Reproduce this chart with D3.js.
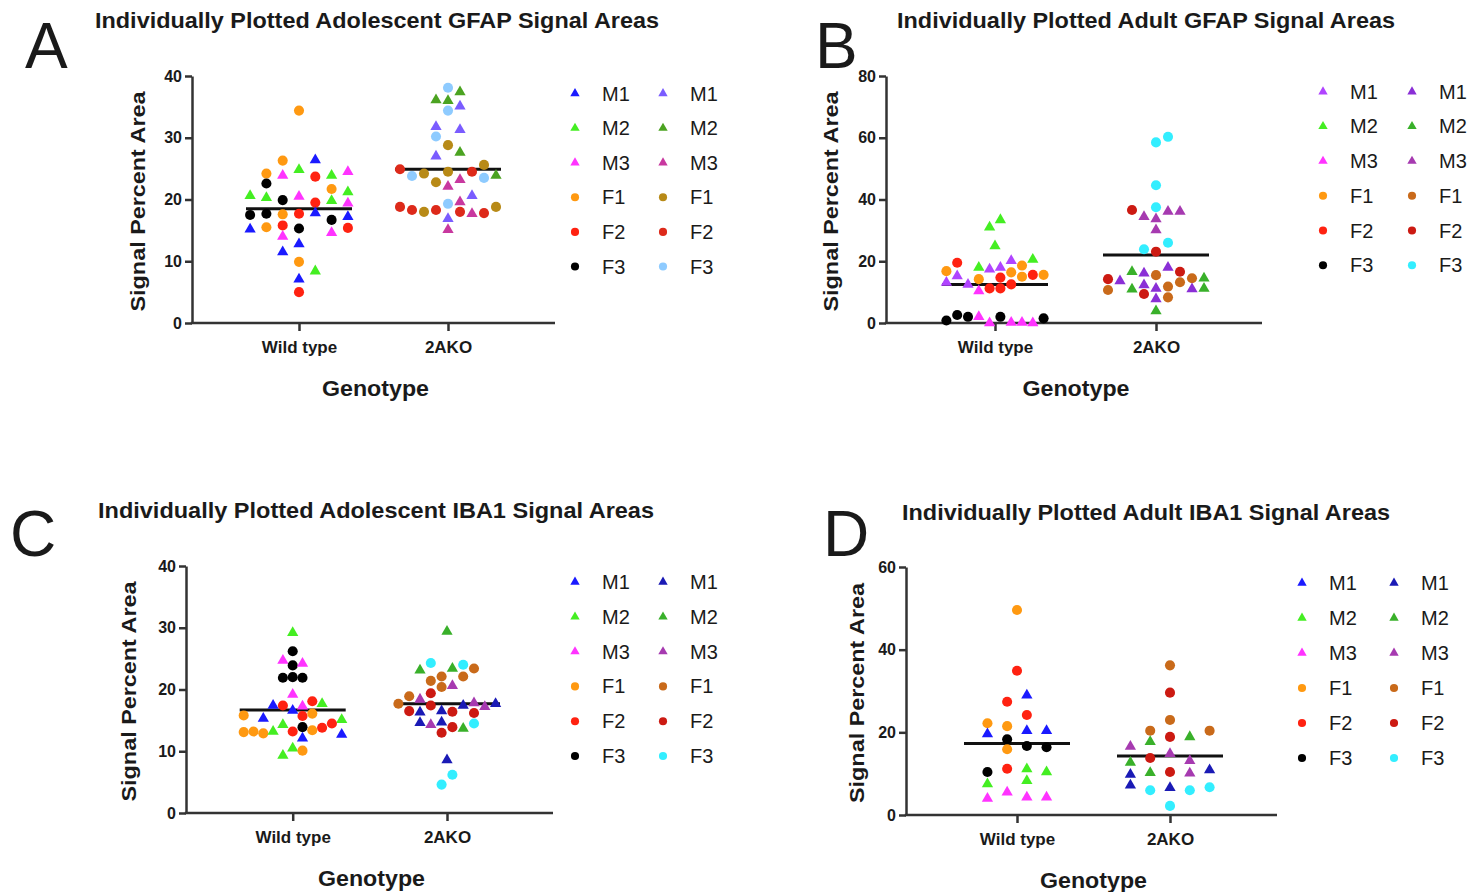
<!DOCTYPE html>
<html lang="en">
<head>
<meta charset="UTF-8">
<script src="https://d3js.org/d3.v7.min.js"></script>
<style>
  body { margin: 0; background: #fff; }
  text { font-family: "Liberation Sans", Arial, sans-serif; fill: #1a1a1a; }
</style>
</head>
<body>
<svg id="fig" width="1469" height="892"></svg>
<script>
// ---- data: [mouse, signal % area, scatter column] ----
const genotypes = ["Wild type", "2AKO"];
const mice = ["M1", "M2", "M3", "F1", "F2", "F3"];
const yTicksA = [0, 10, 20, 30, 40];
const yTicksB = [0, 20, 40, 60, 80];
const yTicksC = [0, 10, 20, 30, 40];
const yTicksD = [0, 20, 40, 60];

const adolGfapWT = [
  ["F1",34.4,0],["M1",26.4,1],["F1",26.3,-1],["F1",24.2,-2],["M3",23.9,-1],["M2",24.8,0],["F2",23.7,1],
  ["M2",23.9,2],["M3",24.5,3],["F3",22.6,-2],["F1",21.7,2],["M2",20.6,-3],["M2",20.3,-2],["F3",19.9,-1],
  ["M3",20.5,0],["F2",19.5,1],["M2",19.8,2],["M2",21.2,3],["M3",19.4,3],["F3",17.5,-3],["F3",17.7,-2],
  ["F1",17.6,-1],["F2",17.7,0],["M1",17.8,1],["M1",17.2,3],["F3",16.7,2],["M1",15.2,-3],["F1",15.5,-2],
  ["F2",15.8,-1],["F3",15.3,0],["M3",14.6,2],["F2",15.4,3],["M3",14.0,-1],["M1",12.8,0],["M1",11.5,-1],
  ["F1",9.9,0],["M2",8.4,1],["M1",7.1,0],["F2",5.0,0]
];
const adolGfapKO = [
  ["F3",38.1,0],["M2",37.4,1],["M2",36.1,-1],["M2",36.0,0],["F3",34.4,0],["M1",35.1,1],["M1",31.8,-1],
  ["M1",31.3,1],["F3",30.2,-1],["F1",28.8,0],["M1",27.0,-1],["M2",27.6,1],["F2",24.9,-4],["F3",23.8,-3],
  ["F1",24.2,-2],["F1",22.8,-1],["F1",24.5,0],["F2",24.5,2],["F1",25.6,3],["F3",23.5,3],["M2",23.9,4],
  ["M3",22.1,0],["M3",23.2,1],["M1",20.6,2],["F2",18.8,-4],["F2",18.3,-3],["F1",18.0,-2],["F2",18.3,-1],
  ["F3",19.3,0],["M3",19.6,1],["F2",18.0,1],["M3",17.7,2],["F2",17.8,3],["F1",18.8,4],["M1",16.9,0],
  ["M3",15.1,0]
];
const adultGfapWT = [
  ["M2",33.4,0.5],["M2",31.0,-0.5],["M2",24.9,0],["F2",19.5,-3.5],["M2",18.0,-1.5],["M1",17.4,-0.5],
  ["M1",18.0,0.5],["M1",20.2,1.5],["F1",18.6,2.5],["M2",20.6,3.5],["F1",16.8,-4.5],["M1",15.2,-3.5],
  ["F1",16.4,1.5],["F1",15.0,2.5],["F2",15.6,3.5],["F1",15.6,4.5],["M1",13.1,-4.5],["M1",12.5,-2.5],
  ["F1",14.2,-1.5],["F2",14.7,0.5],["F2",12.5,1.5],["F2",11.2,-0.5],["F2",11.2,0.5],["M3",10.4,-1.5],
  ["F3",0.8,-4.5],["F3",2.6,-3.5],["F3",2.0,-2.5],["M3",2.0,-1.5],["M3",0.0,-0.5],["F3",2.0,0.5],
  ["M3",0.2,1.5],["M3",0.2,2.5],["M3",0.0,3.5],["F3",1.5,4.5]
];
const adultGfapKO = [
  ["F3",60.3,1],["F3",58.5,0],["F3",44.6,0],["F2",36.6,-2],["F3",37.5,0],["M3",34.4,-1],["M3",33.7,0],
  ["M3",36.1,1],["M3",36.1,2],["M3",30.1,0],["F3",23.9,-1],["F2",23.1,0],["F3",26.0,1],["M2",16.6,-2],
  ["M1",16.1,-1],["F1",15.5,0],["M1",18.0,1],["F2",16.6,2],["F1",14.5,3],["M2",14.5,4],["F2",14.2,-4],
  ["M1",13.6,-3],["F1",10.7,-4],["M2",10.9,-2],["M1",12.3,-1],["M1",11.2,0],["F1",11.8,1],["F1",13.2,2],
  ["M1",11.0,3],["M2",11.2,4],["F2",9.4,-1],["M1",7.8,0],["F1",8.3,1],["M2",3.9,0]
];
const adolIbaWT = [
  ["M2",29.2,0],["F3",26.2,0],["M3",24.7,-1],["F3",23.9,0],["M3",24.2,1],["F3",21.9,-1],["F3",22.0,0],
  ["F3",21.9,1],["M3",19.2,0],["M1",17.4,-2],["F2",17.4,-1],["F2",18.1,2],["M2",17.7,3],["M1",16.6,0],
  ["M3",17.3,1],["F1",15.8,-5],["M1",15.3,-3],["F2",15.7,1],["F1",16.1,2],["M2",14.3,-1],["M2",15.1,5],
  ["F2",14.5,4],["F3",13.9,1],["F2",13.8,3],["F1",13.1,-5],["F1",13.2,-4],["F1",12.9,-3],["M2",13.2,-2],
  ["F2",13.2,0],["F1",13.4,2],["M1",12.7,5],["M1",12.1,1],["M2",10.5,0],["F1",10.1,1],["M2",9.3,-1]
];
const adolIbaKO = [
  ["M2",29.4,0],["F3",24.3,-1.5],["M2",23.1,-2.5],["M2",23.4,0.5],["F3",24.0,1.5],["F1",23.4,2.5],
  ["F1",21.4,-1.5],["F1",22.1,-0.5],["F1",22.1,1.5],["F1",20.4,-0.5],["M3",20.6,0.5],["F2",19.4,-1.5],
  ["F1",18.9,-3.5],["M3",18.4,-2.5],["F1",17.7,-4.5],["F2",17.4,-1.5],["M1",17.4,1.5],["M3",17.8,2.5],
  ["M3",17.2,3.5],["M1",17.7,4.5],["F2",16.5,-3.5],["M1",16.3,-2.5],["M1",16.5,-0.5],["F2",16.4,0.5],
  ["F2",16.2,2.5],["M1",14.6,-2.5],["M3",14.3,-1.5],["M1",14.7,-0.5],["F2",13.9,0.5],["M2",13.7,1.5],
  ["F3",14.5,2.5],["F2",13.0,-0.5],["M1",8.6,0],["F3",6.2,0.5],["F3",4.6,-0.5]
];
const adultIbaWT = [
  ["F1",49.6,0],["F2",34.9,0],["M1",29.0,0.5],["F2",27.4,-0.5],["F2",24.2,0.5],["F1",22.2,-1.5],
  ["F1",21.5,-0.5],["M1",19.6,-1.5],["M1",20.4,0.5],["M1",20.4,1.5],["F3",18.3,-0.5],["F3",16.7,0.5],
  ["F3",16.4,1.5],["F1",15.9,-0.5],["F3",10.4,-1.5],["F2",11.2,-0.5],["M2",11.1,0.5],["M2",10.4,1.5],
  ["M2",7.5,-1.5],["M2",8.3,0.5],["M3",4.0,-1.5],["M3",5.5,-0.5],["M3",4.3,0.5],["M3",4.3,1.5]
];
const adultIbaKO = [
  ["F1",36.2,0],["F2",29.6,0],["F1",23.0,0],["F1",20.4,-1],["F1",20.4,2],["F2",18.9,0],["M2",18.9,1],
  ["M2",17.7,-1],["M3",16.6,-2],["F2",13.8,-1],["M3",14.8,0],["M2",12.7,-2],["M3",13.1,1],["M1",9.8,-2],
  ["M2",10.2,-1],["F2",10.4,0],["M3",10.1,1],["M1",10.9,2],["M1",7.2,-2],["F3",6.0,-1],["M1",6.6,0],
  ["F3",6.0,1],["F3",6.7,2],["F3",2.2,0]
];
// group means (horizontal bars) [Wild type, 2AKO]
const adolGfapMeans = [18.5, 24.9];
const adultGfapMeans = [12.5, 22.0];
const adolIbaMeans = [16.7, 17.7];
const adultIbaMeans = [17.3, 14.3];

// colours per mouse, same order as `mice`
const colA_WT = ["#1a1aff", "#44ee22", "#ff33ff", "#ff9911", "#ff2211", "#000000"];
const colA_KO = ["#7a5cff", "#4ba321", "#c8389f", "#b88a17", "#dd2a1a", "#8ecbff"];
const colB_WT = ["#b044ff", "#44ee22", "#ff33ff", "#ff9911", "#ff2211", "#000000"];
const colB_KO = ["#8a2fd6", "#39b02a", "#a63ab0", "#c96a1a", "#cc1a12", "#33eeff"];
const colC_WT = ["#1a1aff", "#44ee22", "#ff33ff", "#ff9911", "#ff2211", "#000000"];
const colC_KO = ["#1a1ab5", "#39b02a", "#a63ab0", "#c96a1a", "#cc1a12", "#33eeff"];

const svg = d3.select("svg#fig");
const axisColor = "#333";

const panels = [
  { letter: "A", lx: 25, ly: 68, title: "Individually Plotted Adolescent GFAP Signal Areas", tx: 95, ty: 28, tw: 564,
    x0: 192, x1: 555, yTop: 76, yBot: 323, max: 40, ticks: yTicksA, wtX: 299, koX: 448, sp: [16.3, 12],
    groups: [adolGfapWT, adolGfapKO], means: adolGfapMeans, cols: [colA_WT, colA_KO],
    ylabX: 137, legX: 575, legY: 93.5, legDy: 34.6, legDx: 88 },
  { letter: "B", lx: 815, ly: 68, title: "Individually Plotted Adult GFAP Signal Areas", tx: 897, ty: 28, tw: 498,
    x0: 886, x1: 1262, yTop: 76, yBot: 323, max: 80, ticks: yTicksB, wtX: 995, koX: 1156, sp: [10.8, 12],
    groups: [adultGfapWT, adultGfapKO], means: adultGfapMeans, cols: [colB_WT, colB_KO],
    ylabX: 830, legX: 1323, legY: 91.7, legDy: 34.7, legDx: 89 },
  { letter: "C", lx: 10, ly: 556, title: "Individually Plotted Adolescent IBA1 Signal Areas", tx: 98, ty: 518, tw: 556,
    x0: 186, x1: 553, yTop: 566, yBot: 813, max: 40, ticks: yTicksC, wtX: 292.7, koX: 447, sp: [9.8, 10.8],
    groups: [adolIbaWT, adolIbaKO], means: adolIbaMeans, cols: [colC_WT, colC_KO],
    ylabX: 128, legX: 575, legY: 582, legDy: 34.8, legDx: 88 },
  { letter: "D", lx: 823, ly: 556, title: "Individually Plotted Adult IBA1 Signal Areas", tx: 902, ty: 520, tw: 488,
    x0: 906, x1: 1277, yTop: 567, yBot: 815, max: 60, ticks: yTicksD, wtX: 1017, koX: 1170, sp: [19.7, 19.8],
    groups: [adultIbaWT, adultIbaKO], means: adultIbaMeans, cols: [colC_WT, colC_KO],
    ylabX: 856, legX: 1302, legY: 583, legDy: 35, legDx: 92 }
];

const isTri = m => m[0] === "M";
const shape = (m, big) => d3.symbol()
  .type(isTri(m) ? d3.symbolTriangle : d3.symbolCircle)
  .size(isTri(m) ? (big ? 55 : 38) : (big ? 80 : 52))();

panels.forEach(p => {
  const g = svg.append("g");

  // panel letter + title
  g.append("text").attr("x", p.lx).attr("y", p.ly)
    .style("font-size", "64px").text(p.letter);
  g.append("text").attr("x", p.tx).attr("y", p.ty)
    .attr("textLength", p.tw).attr("lengthAdjust", "spacingAndGlyphs")
    .style("font-size", "22px").style("font-weight", "bold").text(p.title);

  const y = d3.scaleLinear().domain([0, p.max]).range([p.yBot, p.yTop]);
  const x = d3.scalePoint().domain(genotypes).range([p.wtX, p.koX]);

  // y axis
  const ya = g.append("g").attr("transform", `translate(${p.x0},0)`)
    .call(d3.axisLeft(y).tickValues(p.ticks).tickSize(7).tickSizeOuter(0).tickPadding(3));
  ya.selectAll("path, line").attr("stroke", axisColor).attr("stroke-width", 2.5);
  ya.selectAll("text").style("font-size", "16px").style("font-weight", "bold")
    .attr("fill", "#1a1a1a").style("font-family", "'Liberation Sans', Arial, sans-serif");

  // x axis
  const xa = g.append("g").attr("transform", `translate(0,${p.yBot})`)
    .call(d3.axisBottom(x).tickSize(8).tickSizeOuter(0));
  xa.select(".domain").remove();
  xa.selectAll("line").attr("stroke", axisColor).attr("stroke-width", 2.5);
  xa.selectAll("text").attr("y", 30).attr("dy", null)
    .style("font-size", "17px").style("font-weight", "bold")
    .attr("fill", "#1a1a1a").style("font-family", "'Liberation Sans', Arial, sans-serif");
  g.append("line").attr("x1", p.x0 - 1.2).attr("x2", p.x1).attr("y1", p.yBot).attr("y2", p.yBot)
    .attr("stroke", axisColor).attr("stroke-width", 2.5);

  g.append("text").attr("x", (p.x0 + p.x1) / 2 + 2).attr("y", p.yBot + 73)
    .attr("text-anchor", "middle").attr("textLength", 107).attr("lengthAdjust", "spacingAndGlyphs")
    .style("font-size", "22px").style("font-weight", "bold").text("Genotype");
  g.append("text")
    .attr("transform", `translate(${p.ylabX + 8},${(p.yTop + p.yBot) / 2 + 2}) rotate(-90)`)
    .attr("text-anchor", "middle").attr("textLength", 220).attr("lengthAdjust", "spacingAndGlyphs")
    .style("font-size", "21px").style("font-weight", "bold").text("Signal Percent Area");

  // mean bars then points
  genotypes.forEach((gt, gi) => {
    g.append("line").attr("x1", x(gt) - 53).attr("x2", x(gt) + 53)
      .attr("y1", y(p.means[gi])).attr("y2", y(p.means[gi]))
      .attr("stroke", "#111").attr("stroke-width", 3);
    const col = d3.scaleOrdinal(mice, p.cols[gi]);
    const lane = d3.scaleLinear().domain([0, 1]).range([x(gt), x(gt) + p.sp[gi]]);
    g.append("g").selectAll("path").data(p.groups[gi]).join("path")
      .attr("d", d => shape(d[0], true))
      .attr("transform", d => `translate(${lane(d[2])},${y(d[1])})`)
      .attr("fill", d => col(d[0]));
  });

  // legend: two columns (wild type, 2AKO)
  p.cols.forEach((cols, ci) => {
    mice.forEach((m, i) => {
      const lx = p.legX + ci * p.legDx, ly = p.legY + i * p.legDy;
      g.append("path").attr("d", shape(m, false))
        .attr("transform", `translate(${lx},${ly})`).attr("fill", cols[i]);
      g.append("text").attr("x", lx + 27).attr("y", ly + 7)
        .style("font-size", "20px").text(m);
    });
  });
});
</script>
</body>
</html>
